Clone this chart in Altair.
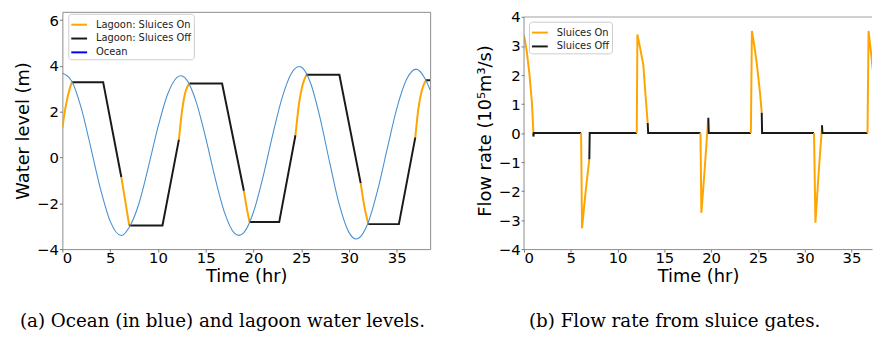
import altair as alt
import pandas as pd

# ---------------- data ----------------
# Ocean water level (m)
ocean_t = [0, 1, 2, 3, 4, 5, 6.17, 7, 8, 9, 10, 11, 12, 12.4, 13, 14, 15, 16, 17, 18,
           18.48, 19, 20, 21, 22, 23, 24, 24.79, 25, 26, 27, 28, 29, 30, 30.75, 31, 32,
           33, 34, 35, 36, 37.02, 38, 38.5]
ocean_level = [3.69, 3.32, 2.12, 0.39, -1.39, -2.78, -3.41, -3.05, -2.03, -0.42, 1.31, 2.74,
               3.50, 3.57, 3.40, 2.44, 0.87, -0.91, -2.43, -3.30, -3.40, -3.28, -2.39, -0.86,
               0.95, 2.60, 3.69, 3.97, 3.95, 3.23, 1.69, -0.25, -2.07, -3.27, -3.56, -3.53,
               -2.86, -1.44, 0.36, 2.12, 3.38, 3.86, 3.42, 2.95]

# Lagoon water level (m), one segment per sluice state
lagoon_seg = [0, 0, 0, 0, 0, 1, 1, 1, 2, 2, 2, 3, 3, 3, 4, 4, 4, 4, 5, 5, 5, 6, 6, 6,
              7, 7, 7, 8, 8, 8, 8, 9, 9, 9, 10, 10, 10, 11, 11, 11, 12, 12, 12, 12, 13, 13]
lagoon_t = [0, 0.25, 0.5, 0.75, 1.0, 1.0, 4.27, 6.17, 6.17, 6.6, 7.0, 7.0, 10.48, 12.2,
            12.2, 12.55, 12.9, 13.3, 13.3, 16.72, 19.0, 19.0, 19.3, 19.6, 19.6, 22.7, 24.4,
            24.4, 24.79, 25.14, 25.54, 25.54, 29.0, 31.23, 31.23, 31.6, 32.03, 32.03, 35.23,
            36.95, 36.95, 37.26, 37.61, 38.06, 38.06, 38.5]
lagoon_level = [1.27, 2.0, 2.55, 2.98, 3.29, 3.29, 3.29, -0.85, -0.85, -1.95, -2.97, -2.97,
                -2.97, 0.78, 0.78, 2.1, 2.89, 3.23, 3.23, 3.23, -1.45, -1.45, -2.2, -2.82,
                -2.82, -2.82, 0.97, 0.97, 2.39, 3.15, 3.61, 3.61, 3.61, -1.12, -1.12, -2.1,
                -2.91, -2.91, -2.91, 0.88, 0.88, 2.1, 2.89, 3.37, 3.37, 3.37]
lagoon_seg_on = [True, False, True, False, True, False, True, False, True, False, True,
                 False, True, False]

# Flow rate through the sluices (10^5 m^3/s)
flow_seg = [0, 0, 0, 0, 0, 1, 1, 1, 1, 2, 2, 2, 2, 3, 3, 3, 4, 4, 4, 4, 4, 4, 5, 5, 5,
            6, 6, 6, 6, 7, 7, 7, 8, 8, 8, 8, 8, 8, 9, 9, 9, 10, 10, 10, 10, 11, 11, 11,
            12, 12, 12, 12, 12]
flow_t = [0, 0.3, 0.57, 0.85, 1.0, 1.0, 1.0, 1.05, 6.1, 6.1, 6.2, 6.6, 6.98, 6.98, 7.02,
          12.05, 12.05, 12.12, 12.4, 12.75, 12.97, 13.22, 13.22, 13.27, 18.86, 18.86,
          18.96, 19.3, 19.68, 19.7, 19.75, 24.25, 24.25, 24.36, 24.6, 24.88, 25.23, 25.41,
          25.41, 25.45, 31.0, 31.0, 31.15, 31.5, 31.85, 31.85, 31.9, 36.72, 36.72, 36.83,
          37.1, 37.4, 37.6]
flow_rate = [3.37, 2.8, 2.06, 1.03, 0.0, 0.0, -0.12, 0.0, 0.0, 0.0, -3.28, -1.97, -0.9,
             -0.9, 0.0, 0.0, 0.0, 3.4, 2.95, 2.35, 1.38, 0.35, 0.35, 0.0, 0.0, 0.0, -2.75,
             -1.3, 0.45, 0.53, 0.0, 0.0, 0.0, 3.52, 3.05, 2.4, 1.38, 0.7, 0.7, 0.0, 0.0,
             0.0, -3.09, -1.36, 0.2, 0.27, 0.0, 0.0, 0.0, 3.52, 2.75, 1.83, 1.2]
flow_seg_on = [True, False, True, False, True, False, True, False, True, False, True,
               False, True]

# ---------------- tables ----------------
ocean_df = pd.DataFrame({"t": ocean_t, "y": ocean_level})
lag_df = pd.DataFrame({"t": lagoon_t, "y": lagoon_level, "seg": lagoon_seg})
lag_df["idx"] = range(len(lag_df))
lag_df["state"] = [("Lagoon: Sluices On" if lagoon_seg_on[s] else "Lagoon: Sluices Off")
                   for s in lagoon_seg]
flow_df = pd.DataFrame({"t": flow_t, "q": flow_rate, "seg": flow_seg})
flow_df["idx"] = range(len(flow_df))
flow_df["mode"] = [("Sluices On" if flow_seg_on[s] else "Sluices Off") for s in flow_seg]

ORANGE = "#ffa500"
BLACK = "#1a1a1a"
FONT = "DejaVu Sans"

axis_common = dict(labelFont=FONT, labelFontSize=15, labelColor="#000000",
                   titleFont=FONT, titleFontSize=18, titleFontWeight="normal",
                   titleColor="#000000", tickColor="#777777", tickSize=3, grid=False,
                   labelOverlap=False)

legend_common = dict(title=None, orient="none", symbolType="stroke", symbolStrokeWidth=2,
                     symbolSize=256, labelFont=FONT, labelFontSize=10, labelColor="#222222",
                     strokeColor="#cccccc", fillColor="#ffffff", padding=2, cornerRadius=3,
                     rowPadding=-3, labelOffset=8)

caption_style = dict(orient="bottom", anchor="middle", frame="bounds", font="DejaVu Serif",
                     fontSize=18.5, fontWeight="normal", color="#000000", offset=27)

# ---------------- left panel ----------------
xl = alt.X("t:Q", scale=alt.Scale(domain=[0, 38.5], nice=False, zero=False),
           axis=alt.Axis(values=[0, 5, 10, 15, 20, 25, 30, 35], title="Time (hr)",
                         domain=False, labelPadding=-1, titlePadding=2, **axis_common))
yl = alt.Y("y:Q", scale=alt.Scale(domain=[-4, 6.36], nice=False, zero=False),
           axis=alt.Axis(values=[-4, -2, 0, 2, 4, 6], title="Water level (m)",
                         domain=False, labelPadding=1, titlePadding=4, **axis_common))
lag_color = alt.Color("state:N",
                      scale=alt.Scale(domain=["Lagoon: Sluices On", "Lagoon: Sluices Off", "Ocean"],
                                      range=[ORANGE, BLACK, "#0000ff"]),
                      legend=alt.Legend(legendX=6, legendY=2, **legend_common))

lag_on = alt.Chart(lag_df[lag_df["state"] == "Lagoon: Sluices On"]).mark_line(
    strokeWidth=2, interpolate="monotone", clip=True
).encode(x=xl, y=yl, color=lag_color, detail="seg:N", order="idx:Q")
lag_off = alt.Chart(lag_df[lag_df["state"] == "Lagoon: Sluices Off"]).mark_line(
    strokeWidth=2, clip=True
).encode(x=xl, y=yl, color=lag_color, detail="seg:N", order="idx:Q")
ocean = alt.Chart(ocean_df).mark_line(
    strokeWidth=1.1, color="#4a90d0", interpolate="monotone", clip=True
).encode(x=xl, y=yl)

left = alt.layer(lag_on, lag_off, ocean).properties(
    width=372, height=240,
    view=alt.ViewBackground(stroke="#8c8c8c", strokeWidth=1),
    title=alt.TitleParams("(a) Ocean (in blue) and lagoon water levels.", **caption_style),
)

# ---------------- right panel ----------------
xr_scale = alt.Scale(domain=[0, 37.2], nice=False, zero=False)
xr_axis = alt.Axis(values=[0, 5, 10, 15, 20, 25, 30, 35], title="Time (hr)",
                   domain=True, domainColor="#8c8c8c", labelPadding=-1, titlePadding=2,
                   **axis_common)
yr_scale = alt.Scale(domain=[-4, 4.18], nice=False, zero=False)
yr_axis = alt.Axis(values=[-4, -3, -2, -1, 0, 1, 2, 3, 4], title="Flow rate (10⁵m³/s)",
                   domain=False, labelPadding=1, titlePadding=4, **axis_common)

flow_color = alt.Color("mode:N",
                       scale=alt.Scale(domain=["Sluices On", "Sluices Off"],
                                       range=[ORANGE, BLACK]),
                       legend=alt.Legend(legendX=5, legendY=10, **legend_common))

flow_lines = alt.Chart(flow_df).mark_line(strokeWidth=2, clip=True).encode(
    x=alt.X("t:Q", scale=xr_scale, axis=xr_axis),
    y=alt.Y("q:Q", scale=yr_scale, axis=yr_axis),
    color=flow_color, detail="seg:N", order="idx:Q")
top_border = alt.Chart(pd.DataFrame({"q": [4]})).mark_rule(
    color="#c0c0c0", strokeWidth=1.5).encode(
    y=alt.Y("q:Q", scale=yr_scale, axis=yr_axis))
left_spine = alt.Chart(pd.DataFrame({"t": [0], "q": [-4], "hi": [4]})).mark_rule(
    color="#8c8c8c", strokeWidth=1).encode(
    x=alt.X("t:Q", scale=xr_scale, axis=xr_axis),
    y=alt.Y("q:Q", scale=yr_scale, axis=yr_axis), y2="hi:Q")

right = alt.layer(flow_lines, top_border, left_spine).properties(
    width=352, height=240,
    view=alt.ViewBackground(strokeOpacity=0),
    title=alt.TitleParams("(b) Flow rate from sluice gates.", **caption_style),
)

chart = alt.hconcat(left, right, spacing=45).resolve_scale(
    x="independent", y="independent", color="independent"
).properties(
    padding={"left": 6, "top": 0, "right": 0, "bottom": 0},
    background="#ffffff",
)

chart.save("out.html", embed_options={"renderer": "svg", "actions": False})
